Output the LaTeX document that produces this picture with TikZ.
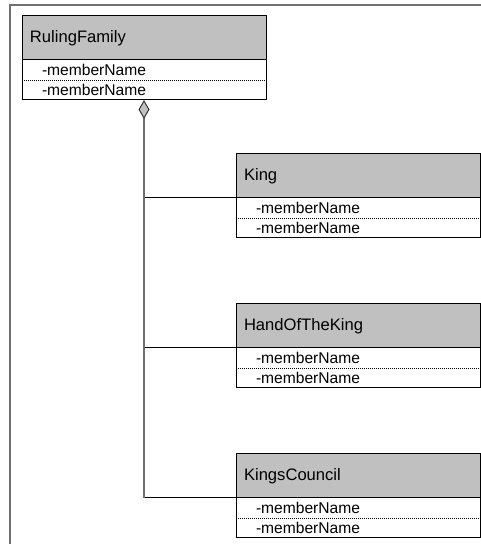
\documentclass[tikz,border=0pt]{standalone}
\usepackage{fontspec}
\setmainfont{Liberation Sans}
\usetikzlibrary{arrows.meta,positioning}
\definecolor{headgray}{HTML}{C0C0C0}
\definecolor{framegray}{HTML}{707070}
\tikzset{>=latex}
\tikzset{
  classhead/.style={draw,line width=1pt,fill=headgray,anchor=north west,
    minimum height=44pt,text width=228pt,inner xsep=8pt,inner ysep=0pt,
    outer sep=0pt,align=left,font=\fontsize{16.6}{18}\selectfont},
  classattr/.style={minimum height=20pt,text width=204pt,inner xsep=20pt,
    inner ysep=0pt,outer sep=0pt,align=left,font=\fontsize{15.6}{17}\selectfont},
  attrsep/.style={line width=0.8pt,dash pattern=on 1pt off 1pt},
  trunk/.style={framegray,line width=1.2pt}
}

\begin{document}
\begin{tikzpicture}[x=1pt,y=1pt]
  \useasboundingbox (0,0) rectangle (481,544);
  \draw[framegray,line width=2pt] (9.5,0) |- (481,539);

  % the aggregate
  \node[classhead] (ruling) at (22,528) {RulingFamily};
  \node[classattr,below=0pt of ruling] (rulingA) {-memberName};
  \node[classattr,below=0pt of rulingA] (rulingB) {-memberName};
  \draw[line width=1pt] (rulingA.north west) rectangle (rulingB.south east);
  \draw[attrsep] (rulingA.south west) -- (rulingA.south east);

  % the parts
  \foreach \name/\title/\top in {king/King/390,hand/HandOfTheKing/240,council/KingsCouncil/90}{
    \node[classhead] (\name) at (236,\top) {\title};
    \node[classattr,below=0pt of \name] (\name A) {-memberName};
    \node[classattr,below=0pt of \name A] (\name B) {-memberName};
    \draw[line width=1pt] (\name A.north west) rectangle (\name B.south east);
    \draw[attrsep] (\name A.south west) -- (\name A.south east);
    \draw[line width=1pt] (\name.south west) -- (\name.south west -| rulingB.south);
  }

  \coordinate (trunkend) at (council.south west -| rulingB.south);
  \draw[trunk,{Diamond[length=19pt,width=11pt,fill=headgray,color=black!80,line width=1pt]}-]
    (rulingB.south) -- (trunkend);
\end{tikzpicture}
\end{document}
